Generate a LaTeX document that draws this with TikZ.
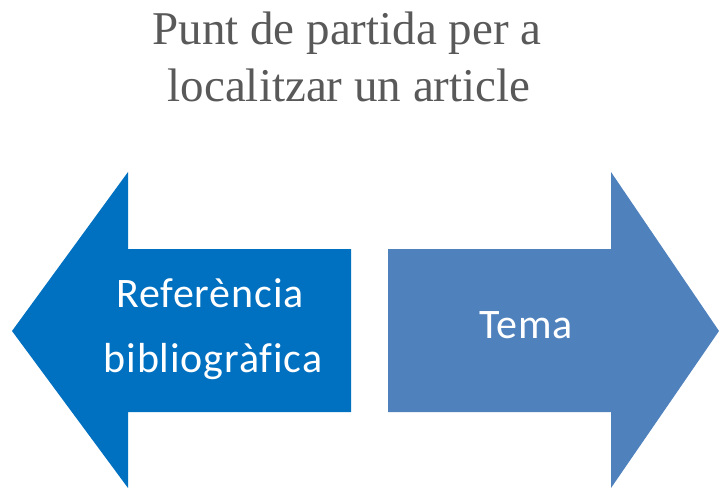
\documentclass[tikz,border=0pt]{standalone}
\usepackage{fontspec}
\newfontfamily\titlefont{Liberation Serif}
\newfontfamily\boxfont[Ligatures=NoCommon,LetterSpace=2]{Carlito}
\definecolor{titlegray}{RGB}{89,89,89}
\definecolor{leftblue}{RGB}{0,112,192}
\definecolor{rightblue}{RGB}{79,129,189}
\begin{document}
\begin{tikzpicture}[x=1pt,y=-1pt,
  titletext/.style={font=\titlefont\fontsize{47}{47}\selectfont, text=titlegray, anchor=base, inner sep=0pt},
  boxtext/.style={font=\boxfont\fontsize{42}{42}\selectfont, text=white, anchor=base, inner sep=0pt}]
\useasboundingbox (0,0) rectangle (719,489);
\fill[leftblue] (12,331) -- (128,172) -- (128,249) -- (351,249) -- (351,412) -- (128,412) -- (128,488) -- cycle;
\fill[rightblue] (388,249) -- (611,249) -- (611,172) -- (719,331) -- (611,488) -- (611,412) -- (388,412) -- cycle;
\node[titletext] (t1) at (347,45) {Punt de partida per a};
\node[titletext] (t2) at (349,102) {localitzar un article};
\node[boxtext] (l1) at (210,307) {Referència};
\node[boxtext] (l2) at (213,372) {bibliogràfica};
\node[boxtext] (r1) at (526,338) {Tema};
\end{tikzpicture}
\end{document}
